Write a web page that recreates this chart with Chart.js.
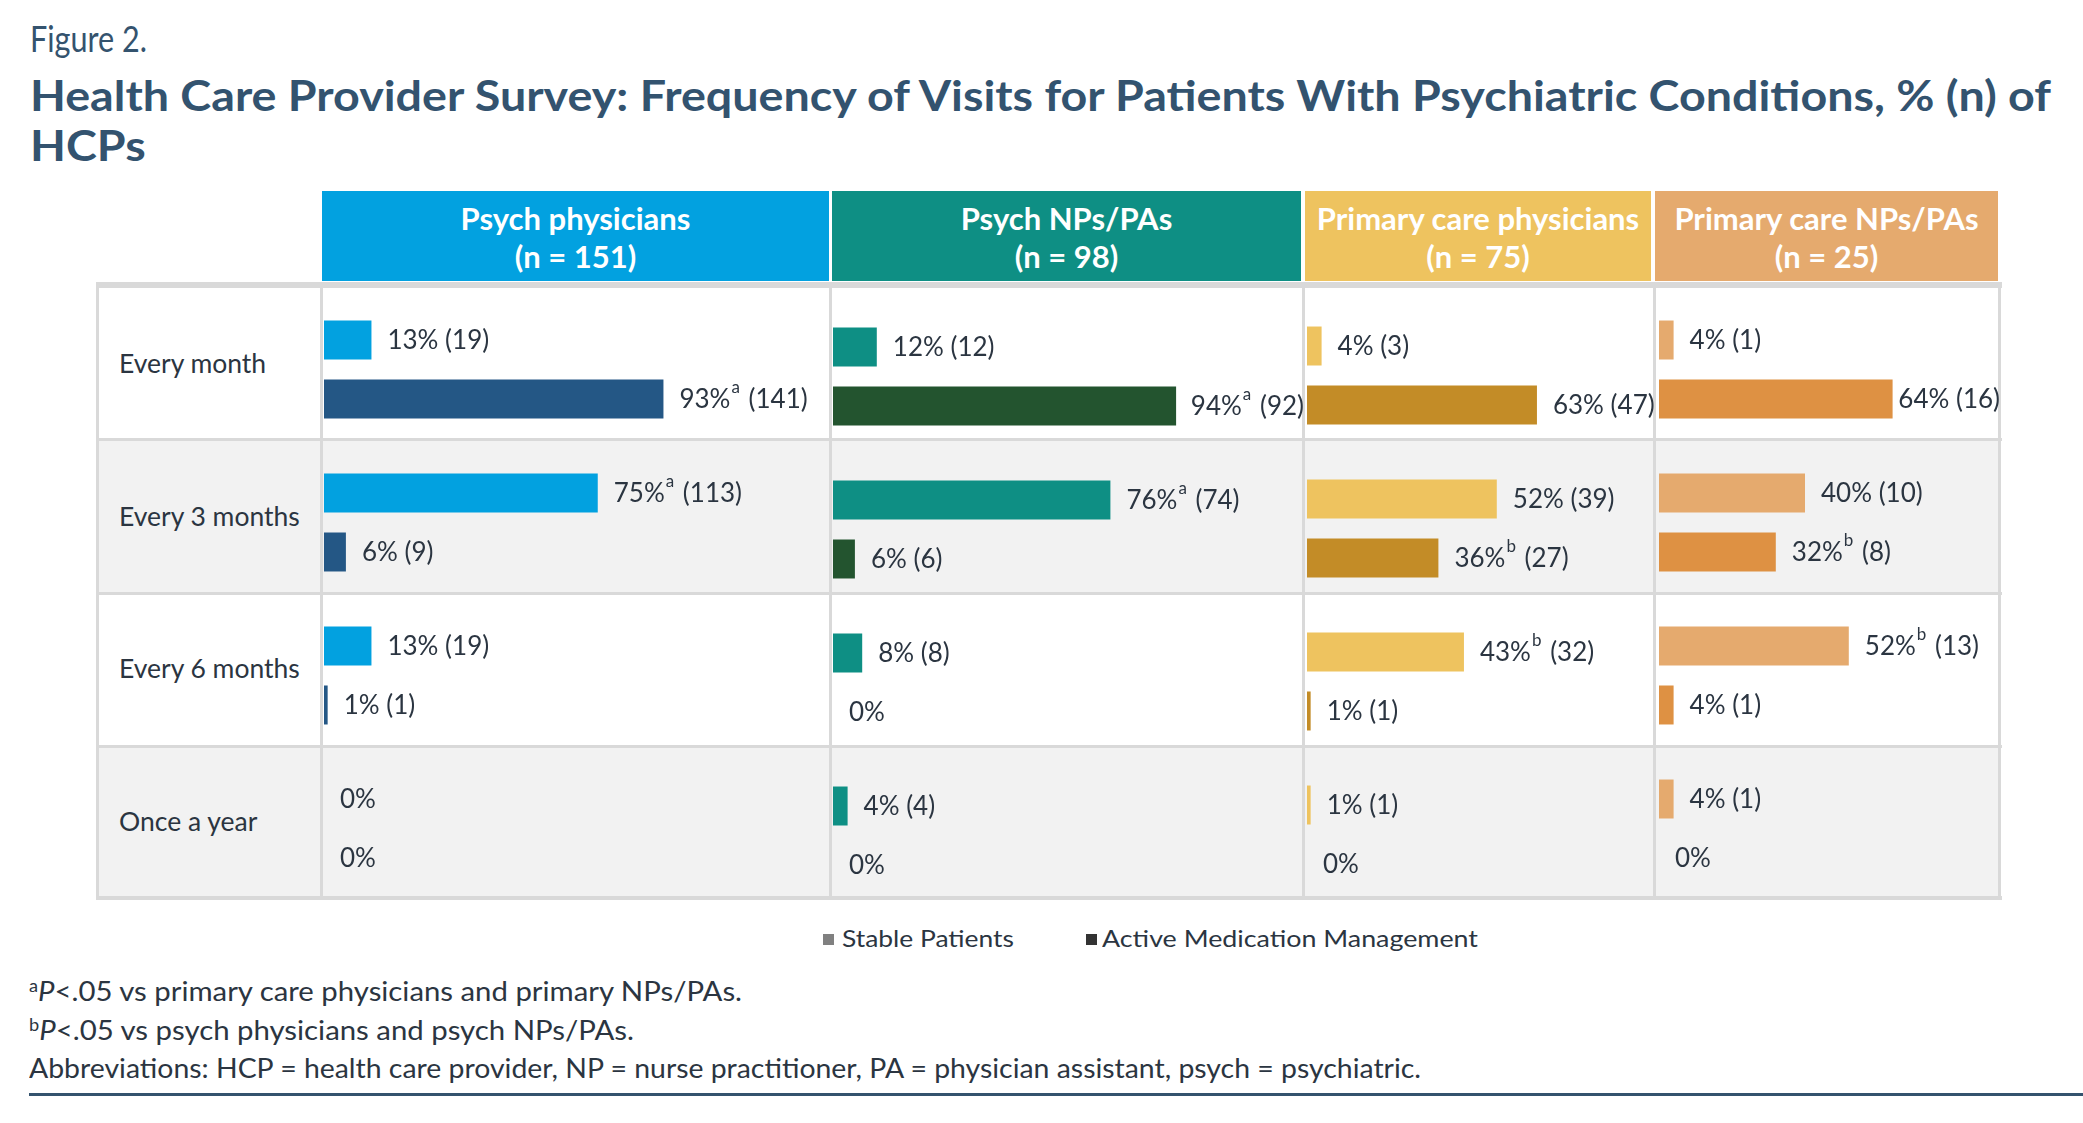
<!DOCTYPE html>
<html>
<head>
<meta charset="utf-8">
<script src="https://cdn.jsdelivr.net/npm/chart.js@4.4.1/dist/chart.umd.min.js"></script>
<style>
  body { margin: 0; width: 2083px; height: 1123px; background: #fff; position: relative; overflow: hidden;
         font-family: Lato, "Noto Sans", sans-serif; color: #2b3541; }
  .t { position: absolute; white-space: nowrap; line-height: 1.2; transform-origin: left top; }
  .box { position: absolute; }
  .hd { position: absolute; top: 191px; height: 90px; color: #fff; font-weight: 700; font-size: 31px; }
  .hd div { position: absolute; left: 0; right: 0; text-align: center; line-height: 1.2; white-space: nowrap; }
  .ln { position: absolute; background: #d9d9d9; }
  canvas { position: absolute; }
  sup { font-size: 0.62em; vertical-align: 0.55em; line-height: 0; }
</style>
</head>
<body>

<div class="t" data-fit="117" style="left:30px;top:17px;font-size:36px;color:#34536e">Figure 2.</div>
<div class="t" id="title1" data-fit="2021" style="left:30px;top:70px;font-size:42px;font-weight:700;color:#33536f">Health Care Provider Survey: Frequency of Visits for Patients With Psychiatric Conditions, % (n) of</div>
<div class="t" id="title2" style="left:30px;top:120px;font-size:42px;font-weight:700;color:#33536f">HCPs</div>

<div id="table"></div>

<div class="box" style="left:823px;top:934px;width:11px;height:11px;background:#808080"></div>
<div class="t" data-fit="172" style="left:842px;top:924px;font-size:24px">Stable Patients</div>
<div class="box" style="left:1086px;top:934px;width:11px;height:11px;background:#333"></div>
<div class="t" data-fit="376" style="left:1102px;top:924px;font-size:24px">Active Medication Management</div>

<div class="t" data-fit="713" style="left:29px;top:975px;font-size:27px"><sup>a</sup><i>P</i>&lt;.05 vs primary care physicians and primary NPs/PAs.</div>
<div class="t" data-fit="605" style="left:29px;top:1014px;font-size:27px"><sup>b</sup><i>P</i>&lt;.05 vs psych physicians and psych NPs/PAs.</div>
<div class="t" data-fit="1392" style="left:29px;top:1052px;font-size:27px">Abbreviations: HCP = health care provider, NP = nurse practitioner, PA = physician assistant, psych = psychiatric.</div>
<div class="box" style="left:29px;top:1093px;width:2054px;height:3px;background:#34536e"></div>

<script>
// ---- data ----
const rows = ['Every month', 'Every 3 months', 'Every 6 months', 'Once a year'];
const groups = ['Psych physicians', 'Psych NPs/PAs', 'Primary care physicians', 'Primary care NPs/PAs'];
const groupN = [151, 98, 75, 25];

const stablePct = [[13, 75, 13, 0], [12, 76, 8, 4], [4, 52, 43, 1], [4, 40, 52, 4]];
const stableN   = [[19, 113, 19, 0], [12, 74, 8, 4], [3, 39, 32, 1], [1, 10, 13, 1]];
const stableSup = [['', 'a', '', ''], ['', 'a', '', ''], ['', '', 'b', ''], ['', '', 'b', '']];

const activePct = [[93, 6, 1, 0], [94, 6, 0, 0], [63, 36, 1, 0], [64, 32, 4, 0]];
const activeN   = [[141, 9, 1, 0], [92, 6, 0, 0], [47, 27, 1, 0], [16, 8, 1, 0]];
const activeSup = [['a', '', '', ''], ['a', '', '', ''], ['', 'b', '', ''], ['', 'b', '', '']];

// ---- styles / layout ----
const headColors   = ['#02a1e0', '#0e8f84', '#eec35f', '#e5aa6e'];
const stableColors = ['#02a1e0', '#0e8f84', '#eec35f', '#e5aa6e'];
const activeColors = ['#245785', '#23542f', '#c38c27', '#de9143'];

const headLeft  = [322, 832, 1305, 1655];
const headRight = [829, 1301, 1651, 1998];
const colLeft   = [324, 833, 1307, 1659];
const colRight  = [829, 1302, 1653, 1998];
const chartTop  = [293, 300, 299, 293];
const rowH      = 153;
const PX = 3.65; // pixels per percent

const table = document.getElementById('table');
function add(html) { table.insertAdjacentHTML('beforeend', html); }

// row shading
add('<div class="box" style="left:97px;top:441px;width:1904px;height:151px;background:#f2f2f2"></div>');
add('<div class="box" style="left:97px;top:748px;width:1904px;height:149px;background:#f2f2f2"></div>');

// grid lines
add('<div class="ln" style="left:97px;top:282px;width:1905px;height:6px"></div>');
[438, 592, 745].forEach(y => add('<div class="ln" style="left:97px;top:' + y + 'px;width:1905px;height:3px"></div>'));
add('<div class="ln" style="left:97px;top:896px;width:1905px;height:4px"></div>');
[96, 320, 829, 1302, 1653, 1998].forEach(x => add('<div class="ln" style="left:' + x + 'px;top:282px;width:3px;height:618px"></div>'));

// headers
groups.forEach((g, c) => {
  add('<div class="hd" style="left:' + headLeft[c] + 'px;width:' + (headRight[c] - headLeft[c]) + 'px;background:' + headColors[c] + '">' +
      '<div style="top:9px">' + g + '</div><div style="top:47px">(n = ' + groupN[c] + ')</div></div>');
});

// row labels
const rowCenters = [365, 518, 670, 823];
rows.forEach((r, i) => add('<div class="t" style="left:119px;top:' + (rowCenters[i] - 17) + 'px;font-size:26.5px">' + r + '</div>'));

// fit text widths
document.querySelectorAll('[data-fit]').forEach(el => {
  const w = el.getBoundingClientRect().width;
  const k = (+el.dataset.fit) / w;
  el.style.transform = 'scaleX(' + k + ')';
  if (el.id === 'title1') document.getElementById('title2').style.transform = 'scaleX(' + k + ')';
});

function makeLabels(c) {
  const pcts = [stablePct[c], activePct[c]];
  const ns = [stableN[c], activeN[c]];
  const sups = [stableSup[c], activeSup[c]];
  const limit = colRight[c] - colLeft[c] + 2;
  return {
    id: 'barLabels' + c,
    afterDatasetsDraw(chart) {
      const ctx = chart.ctx;
      ctx.save();
      ctx.fillStyle = '#2b3541';
      ctx.textBaseline = 'alphabetic';
      chart.data.datasets.forEach((ds, d) => {
        chart.getDatasetMeta(d).data.forEach((bar, i) => {
          const v = pcts[d][i];
          const main = v + '%';
          const sup = sups[d][i];
          const rest = v > 0 ? ' (' + ns[d][i] + ')' : '';
          ctx.font = '26px Lato';
          const wMain = ctx.measureText(main).width;
          const wRest = ctx.measureText(rest).width;
          ctx.font = '17px Lato';
          const wSup = sup ? ctx.measureText(sup).width + 3 : 0;
          const total = wMain + wSup + wRest;
          let x = bar.x + 16;
          if (x + total > limit) x = Math.max(bar.x + 4, limit - total);
          const y = bar.y + 9;
          ctx.font = '26px Lato';
          ctx.fillText(main, x, y);
          if (sup) { ctx.font = '17px Lato'; ctx.fillText(sup, x + wMain + 1, y - 15); }
          ctx.font = '26px Lato';
          ctx.fillText(rest, x + wMain + wSup, y);
        });
      });
      ctx.restore();
    }
  };
}

groups.forEach((g, c) => {
  const cv = document.createElement('canvas');
  const w = colRight[c] - colLeft[c] + 60;
  cv.width = w;
  cv.height = rowH * 4;
  cv.style.left = colLeft[c] + 'px';
  cv.style.top = chartTop[c] + 'px';
  document.body.appendChild(cv);
  new Chart(cv, {
    type: 'bar',
    data: {
      labels: rows,
      datasets: [
        { label: 'Stable Patients', data: stablePct[c], backgroundColor: stableColors[c],
          categoryPercentage: 0.771, barPercentage: 0.661 },
        { label: 'Active Medication Management', data: activePct[c], backgroundColor: activeColors[c],
          categoryPercentage: 0.771, barPercentage: 0.661 }
      ]
    },
    options: {
      indexAxis: 'y',
      responsive: false,
      animation: false,
      devicePixelRatio: 1,
      layout: { padding: 0 },
      plugins: { legend: { display: false }, tooltip: { enabled: false } },
      scales: {
        x: { display: false, min: 0, max: w / PX },
        y: { display: false }
      }
    },
    plugins: [makeLabels(c)]
  });
});
</script>
</body>
</html>
